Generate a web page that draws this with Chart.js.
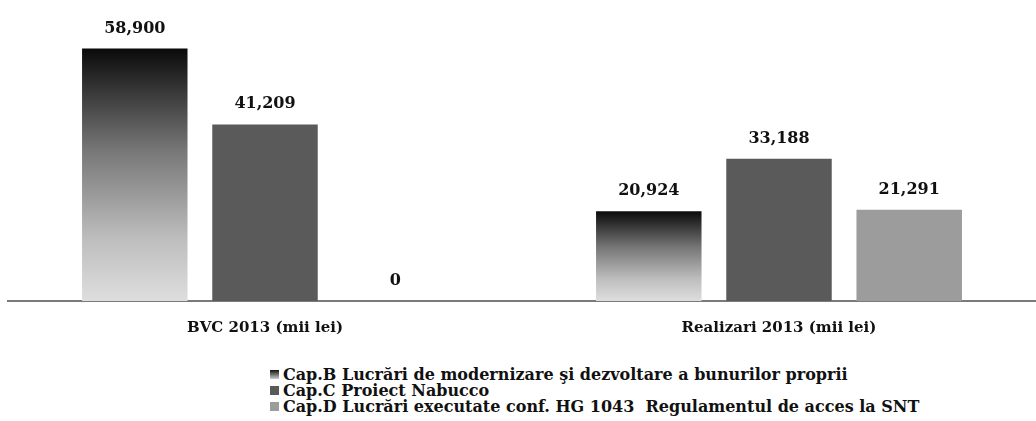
<!DOCTYPE html>
<html>
<head>
<meta charset="utf-8">
<script src="https://cdn.jsdelivr.net/npm/chart.js@4"></script>
<style>
  body { margin: 0; background: #fff; }
  #wrap { position: relative; width: 1036px; height: 421px; }
  #chart { position: absolute; left: 0; top: 0; }
  #legend { position: absolute; left: 270px; top: 367px; font: bold 16px "DejaVu Serif", serif; color: #111; }
  .item { height: 16px; line-height: 16px; white-space: pre; }
  .box { display: inline-block; width: 9px; height: 9px; margin-right: 4px; vertical-align: 1px; }
</style>
</head>
<body>
<div id="wrap">
  <canvas id="chart" width="1036" height="357"></canvas>
  <div id="legend"></div>
</div>
<script>
const categories = ['BVC 2013 (mii lei)', 'Realizari 2013 (mii lei)'];
const seriesNames = [
  'Cap.B Lucrări de modernizare şi dezvoltare a bunurilor proprii',
  'Cap.C Proiect Nabucco',
  'Cap.D Lucrări executate conf. HG 1043  Regulamentul de acces la SNT'
];
const capB = [58900, 20924];
const capC = [41209, 33188];
const capD = [0, 21291];

const solid = ['#1a1a1a', '#5a5a5a', '#9c9c9c'];
const font = '"DejaVu Serif", serif';

// gradient black -> light gray, computed for each Cap.B bar
function capBGradient(context) {
  const chart = context.chart;
  const y = chart.scales.y;
  if (!y || context.raw === undefined) return solid[0];
  const top = y.getPixelForValue(context.raw);
  const base = y.getPixelForValue(0);
  if (!isFinite(top) || !isFinite(base) || top === base) return solid[0];
  const g = chart.ctx.createLinearGradient(0, top, 0, base);
  g.addColorStop(0, '#0a0a0a');
  g.addColorStop(0.4, '#767676');
  g.addColorStop(0.75, '#bdbdbd');
  g.addColorStop(1, '#dedede');
  return g;
}

const valueLabels = {
  id: 'valueLabels',
  afterDatasetsDraw(chart) {
    const ctx = chart.ctx;
    ctx.save();
    ctx.font = 'bold 16px ' + font;
    ctx.fillStyle = '#111';
    ctx.textAlign = 'center';
    ctx.textBaseline = 'alphabetic';
    chart.data.datasets.forEach((ds, i) => {
      chart.getDatasetMeta(i).data.forEach((bar, j) => {
        ctx.fillText(ds.data[j].toLocaleString('en-US'), bar.x, bar.y - 16);
      });
    });
    ctx.restore();
  }
};

new Chart(document.getElementById('chart'), {
  type: 'bar',
  data: {
    labels: categories,
    datasets: [
      { label: seriesNames[0], data: capB, backgroundColor: capBGradient },
      { label: seriesNames[1], data: capC, backgroundColor: solid[1] },
      { label: seriesNames[2], data: capD, backgroundColor: solid[2] }
    ]
  },
  options: {
    responsive: false,
    animation: false,
    layout: { padding: { left: 8, right: 0, top: 1, bottom: 10 } },
    categoryPercentage: 0.76,
    barPercentage: 0.81,
    plugins: { legend: { display: false }, tooltip: { enabled: false } },
    scales: {
      x: {
        grid: { display: false },
        border: { display: true, color: '#7a7a7a', width: 2 },
        ticks: { color: '#111', font: { family: font, size: 15, weight: 'bold' }, padding: 10 }
      },
      y: {
        display: false,
        min: 0,
        max: 70000
      }
    }
  },
  plugins: [valueLabels]
});

const legend = document.getElementById('legend');
seriesNames.forEach((name, i) => {
  const row = document.createElement('div');
  row.className = 'item';
  const bg = i === 0 ? 'linear-gradient(#111, #ccc)' : solid[i];
  row.innerHTML = '<span class="box" style="background:' + bg + '"></span>' + name;
  legend.appendChild(row);
});
</script>
</body>
</html>
